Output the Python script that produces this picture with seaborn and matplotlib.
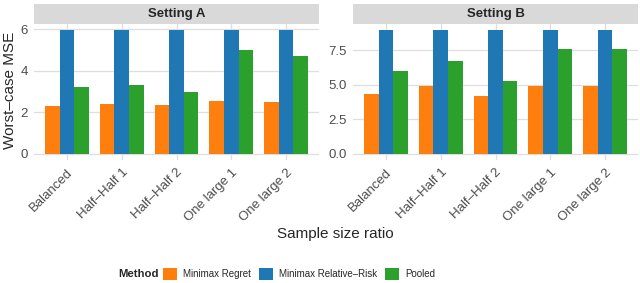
import pandas as pd
import seaborn as sns
import matplotlib.pyplot as plt
from matplotlib.patches import Rectangle, Patch

sns.set_style("white")
plt.rcParams['font.family'] = ['Liberation Sans', 'DejaVu Sans']

# data
ratios = ["Balanced", "Half–Half 1", "Half–Half 2", "One large 1", "One large 2"]
methods = ["Minimax Regret", "Minimax Relative–Risk", "Pooled"]
colors = ["#ff7f0e", "#1f77b4", "#2ca02c"]

a_regret = [2.32, 2.40, 2.34, 2.56, 2.51]
a_relrisk = [5.95, 5.95, 5.95, 5.95, 5.95]
a_pooled = [3.20, 3.30, 2.98, 5.01, 4.72]

b_regret = [4.33, 4.88, 4.16, 4.93, 4.88]
b_relrisk = [8.94, 8.94, 8.94, 8.94, 8.94]
b_pooled = [6.01, 6.68, 5.29, 7.60, 7.60]

rows = []
for setting, vals in [("Setting A", [a_regret, a_relrisk, a_pooled]),
                      ("Setting B", [b_regret, b_relrisk, b_pooled])]:
    for m, series in zip(methods, vals):
        for r, v in zip(ratios, series):
            rows.append({"Setting": setting, "Ratio": r, "Method": m, "MSE": v})
df = pd.DataFrame(rows)

fig = plt.figure(figsize=(6.4, 2.83), dpi=100)
W, H = 640, 283
panels = [("Setting A", 34, [0, 2, 4, 6], ["0", "2", "4", "6"], 6.25),
          ("Setting B", 353, [0, 2.5, 5, 7.5], ["0.0", "2.5", "5.0", "7.5"], 9.39)]
grey = "#4D4D4D"
for setting, x0, yt, ytl, ymax in panels:
    ax = fig.add_axes([x0 / W, 1 - 160 / H, 285 / W, (160 - 24) / H])
    sub = df[df.Setting == setting]
    sns.barplot(data=sub, x="Ratio", y="MSE", hue="Method", order=ratios,
                hue_order=methods, palette=colors, width=0.8, linewidth=0,
                saturation=1, legend=False, ax=ax, zorder=3)
    ax.set_xlim(-0.6, 4.6)
    ax.set_ylim(-ymax * 0.05 / 1.05, ymax)
    ax.set_yticks(yt)
    ax.set_yticklabels(ytl)
    ax.grid(True, color="#DEDEDE", linewidth=0.9, zorder=0)
    ax.set_axisbelow(True)
    for s in ax.spines.values():
        s.set_visible(False)
    ax.tick_params(axis="both", length=2.5, width=0.6, color="#B3B3B3",
                   labelsize=9.5, labelcolor=grey, pad=2)
    plt.setp(ax.get_xticklabels(), rotation=45, ha="right",
             rotation_mode="anchor")
    ax.set_xlabel("")
    ax.set_ylabel("")
    # facet strip
    ax.add_patch(Rectangle((0, 1.0), 1, 20 / 136, transform=ax.transAxes,
                           facecolor="#D9D9D9", edgecolor="none",
                           clip_on=False))
    ax.text(0.5, 1.0 + 10 / 136, setting, transform=ax.transAxes,
            ha="center", va="center", fontsize=9.5, fontweight="bold")

fig.text(10 / W, 1 - 90 / H, "Worst–case MSE", rotation=90, ha="center",
         va="center", fontsize=11)
fig.text(335 / W, 1 - 234 / H, "Sample size ratio", ha="center",
         va="center", fontsize=11)

# legend: bold title to the left, keys in one row
fig.text(118 / W, 1 - 274 / H, "Method", ha="left", va="center",
         fontsize=8.2, fontweight="bold")
handles = [Patch(facecolor=c, edgecolor="none") for c in colors]
leg = fig.legend(handles, methods, loc="center left", ncol=3,
                 bbox_to_anchor=(163 / W, 1 - 274 / H), frameon=False,
                 fontsize=7, handlelength=1.45, handleheight=1.45,
                 columnspacing=0.8, handletextpad=0.62, borderpad=0,
                 borderaxespad=0)
fig.savefig("out.png", dpi=100)
